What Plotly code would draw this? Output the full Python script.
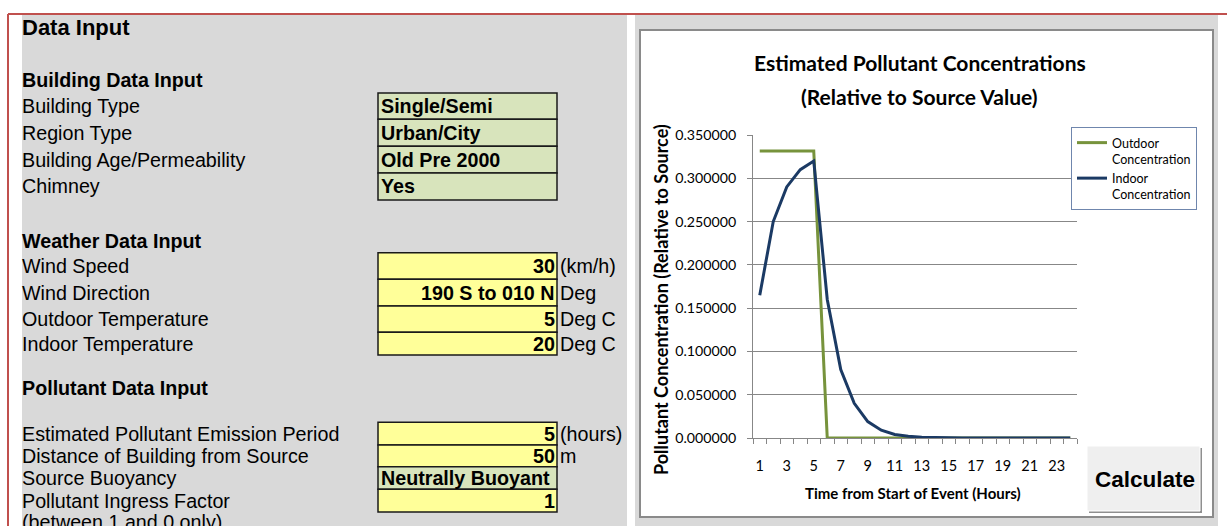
import plotly.graph_objects as go

# ---- chart data -----------------------------------------------------------
hours = list(range(1, 25))
outdoor_conc = [0.3316, 0.3316, 0.3316, 0.3316, 0.3316, 0.0, 0.0, 0.0,
                0.0, 0.0, 0.0, 0.0, 0.0, 0.0, 0.0, 0.0,
                0.0, 0.0, 0.0, 0.0, 0.0, 0.0, 0.0, 0.0]
indoor_conc = [0.165, 0.250, 0.290, 0.310, 0.320, 0.160, 0.079, 0.040,
               0.019, 0.009, 0.004, 0.002, 0.001, 0.0005, 0.0002, 0.0001,
               0.0, 0.0, 0.0, 0.0, 0.0, 0.0, 0.0, 0.0]
y_ticks = [0.0, 0.05, 0.10, 0.15, 0.20, 0.25, 0.30, 0.35]
x_tick_labels = [1, 3, 5, 7, 9, 11, 13, 15, 17, 19, 21, 23]

# ---- input sheet contents -------------------------------------------------
building_labels = ["Building Type", "Region Type", "Building Age/Permeability", "Chimney"]
building_values = ["Single/Semi", "Urban/City", "Old Pre 2000", "Yes"]

weather_labels = ["Wind Speed", "Wind Direction", "Outdoor Temperature", "Indoor Temperature"]
weather_values = ["30", "190 S to 010 N", "5", "20"]
weather_units = ["(km/h)", "Deg", "Deg C", "Deg C"]

pollutant_labels = ["Estimated Pollutant Emission Period", "Distance of Building from Source",
                    "Source Buoyancy", "Pollutant Ingress Factor"]
pollutant_values = ["5", "50", "Neutrally Buoyant", "1"]
pollutant_units = ["(hours)", "m", "", ""]

# ---- page geometry helpers (pixels -> paper fraction) ----------------------
W, H = 1227, 526


def px(x):
    return x / W


def py(y):
    return 1 - y / H


ARIAL = "Liberation Sans, Arial, sans-serif"
CALIBRI = "Lato, Carlito, Calibri, sans-serif"
GRID = "#878787"
GREEN_CELL = "#d8e4bc"
YELLOW_CELL = "#ffff99"
PANEL = "#d9d9d9"
RED = "#c0504d"

shapes = []
annotations = []


def rect(x0, y0, x1, y1, fill, line_color=None, line_width=0, layer="below"):
    shapes.append(dict(type="rect", xref="paper", yref="paper",
                       x0=px(x0), x1=px(x1), y0=py(y1), y1=py(y0),
                       fillcolor=fill, layer=layer,
                       line=dict(color=line_color or fill, width=line_width)))


def text(s, x, y, size, bold=False, anchor="left", family=ARIAL, color="#000000", angle=0):
    annotations.append(dict(text=f"<b>{s}</b>" if bold else s, x=px(x), y=py(y),
                            xref="paper", yref="paper", xanchor=anchor, yanchor="middle",
                            showarrow=False, textangle=angle, borderpad=0,
                            font=dict(family=family, size=size, color=color)))


# ---- backgrounds -----------------------------------------------------------
rect(22, 15, 627, 526, PANEL)            # input panel
rect(635, 15, 1218, 526, PANEL)          # chart panel
rect(640, 30, 1213, 517, "#ffffff", "#8a8a8a", 2)   # chart area
shapes.append(dict(type="line", xref="paper", yref="paper", x0=px(8), x1=1,
                   y0=py(14), y1=py(14), line=dict(color=RED, width=2), layer="below"))
shapes.append(dict(type="line", xref="paper", yref="paper", x0=px(8), x1=px(8),
                   y0=py(14), y1=0, line=dict(color=RED, width=2), layer="below"))

# ---- input sheet -----------------------------------------------------------
LABEL_X = 21
CELL_X0, CELL_X1 = 378, 557
UNIT_X = 559
LABEL_SIZE = 19.7

text("Data Input", LABEL_X, 27, 22, bold=True)

sections = [
    ("Building Data Input", 80, building_labels, building_values, ["", "", "", ""],
     [93, 119.3, 146.3, 173, 200], [GREEN_CELL] * 4),
    ("Weather Data Input", 241, weather_labels, weather_values, weather_units,
     [252.7, 279.3, 306, 332.3, 355], [YELLOW_CELL] * 4),
    ("Pollutant Data Input", 388, pollutant_labels, pollutant_values, pollutant_units,
     [422.3, 445, 466.7, 489.3, 512], [YELLOW_CELL, YELLOW_CELL, GREEN_CELL, YELLOW_CELL]),
]

for title, ty, labels, values, units, edges, fills in sections:
    text(title, LABEL_X, ty, LABEL_SIZE, bold=True)
    for i, (lab, val, unit) in enumerate(zip(labels, values, units)):
        top, bot = edges[i], edges[i + 1]
        mid = (top + bot) / 2
        rect(CELL_X0, top, CELL_X1, bot, fills[i], "#1a1a1a", 1.5)
        text(lab, LABEL_X, mid, LABEL_SIZE)
        numeric = val.replace(".", "").isdigit()
        if numeric or val.startswith("190"):
            text(val, CELL_X1 - 1, mid, LABEL_SIZE, bold=True, anchor="right")
        else:
            text(val, CELL_X0 + 2, mid, LABEL_SIZE, bold=True)
        if unit:
            text(unit, UNIT_X, mid, LABEL_SIZE)

text("(between 1 and 0 only)", LABEL_X, 522, LABEL_SIZE)

# ---- chart titles ----------------------------------------------------------
text("Estimated Pollutant Concentrations", 920, 63, 21, bold=True, anchor="center", family=CALIBRI)
text("(Relative to Source Value)", 919, 97, 21, bold=True, anchor="center", family=CALIBRI)
text("Pollutant Concentration (Relative to Source)", 661, 300, 18, bold=True,
     anchor="center", family=CALIBRI, angle=-90)
text("Time from Start of Event (Hours)", 913, 493, 15, bold=True, anchor="center", family=CALIBRI)

# ---- Calculate button ------------------------------------------------------
rect(1089, 448, 1202, 513, "#8f8f8f", layer="above")
rect(1087, 446, 1200, 511, "#efefef", "#ffffff", 1, layer="above")
annotations.append(dict(text="<b>Calculate</b>", x=px(1144.5), y=py(479), xref="paper", yref="paper",
                        xanchor="center", yanchor="middle", showarrow=False,
                        font=dict(family=ARIAL, size=22.5, color="#000000")))

# ---- traces ----------------------------------------------------------------
fig = go.Figure()
fig.add_trace(go.Scatter(x=hours, y=outdoor_conc, mode="lines",
                         name="Outdoor<br>Concentration", legendgroup="outdoor",
                         line=dict(color="#77933c", width=3)))
fig.add_trace(go.Scatter(x=hours, y=indoor_conc, mode="lines",
                         name="Indoor<br>Concentration", legendgroup="indoor",
                         line=dict(color="#1b3a64", width=3)))

boundaries = [h - 0.5 for h in hours] + [hours[-1] + 0.5]

fig.update_layout(
    width=W, height=H,
    margin=dict(l=0, r=0, t=0, b=0),
    paper_bgcolor="#ffffff",
    plot_bgcolor="rgba(0,0,0,0)",
    shapes=shapes,
    annotations=annotations,
    showlegend=True,
    legend=dict(x=px(1071), y=py(127), xanchor="left", yanchor="top",
                bgcolor="#ffffff", bordercolor="#6f86ad", borderwidth=1,
                font=dict(family=CALIBRI, size=12.5, color="#000000"),
                valign="top", tracegroupgap=9, traceorder="normal"),
    xaxis=dict(domain=[px(753), px(1077)], range=[0.5, 24.5],
               tickmode="array", tickvals=x_tick_labels,
               ticktext=[str(v) for v in x_tick_labels],
               ticks="outside", ticklen=15, tickcolor="rgba(0,0,0,0)",
               showgrid=False, zeroline=False,
               showline=True, linecolor=GRID, linewidth=1,
               tickfont=dict(family=CALIBRI, size=14.5, color="#000000"),
               minor=dict(tickmode="array", tickvals=boundaries, ticks="outside",
                          ticklen=5, tickcolor=GRID, showgrid=False),
               automargin=False, fixedrange=True),
    yaxis=dict(domain=[py(438), py(135)], range=[0, 0.35],
               tickmode="array", tickvals=y_ticks, tickformat=".6f",
               ticks="outside", ticklen=5, tickcolor=GRID, ticklabelstandoff=8,
               showgrid=True, gridcolor=GRID, gridwidth=1,
               zeroline=False, showline=True, linecolor=GRID, linewidth=1,
               tickfont=dict(family=CALIBRI, size=14.2, color="#000000"),
               automargin=False, fixedrange=True),
)

fig.write_html("out.html")
